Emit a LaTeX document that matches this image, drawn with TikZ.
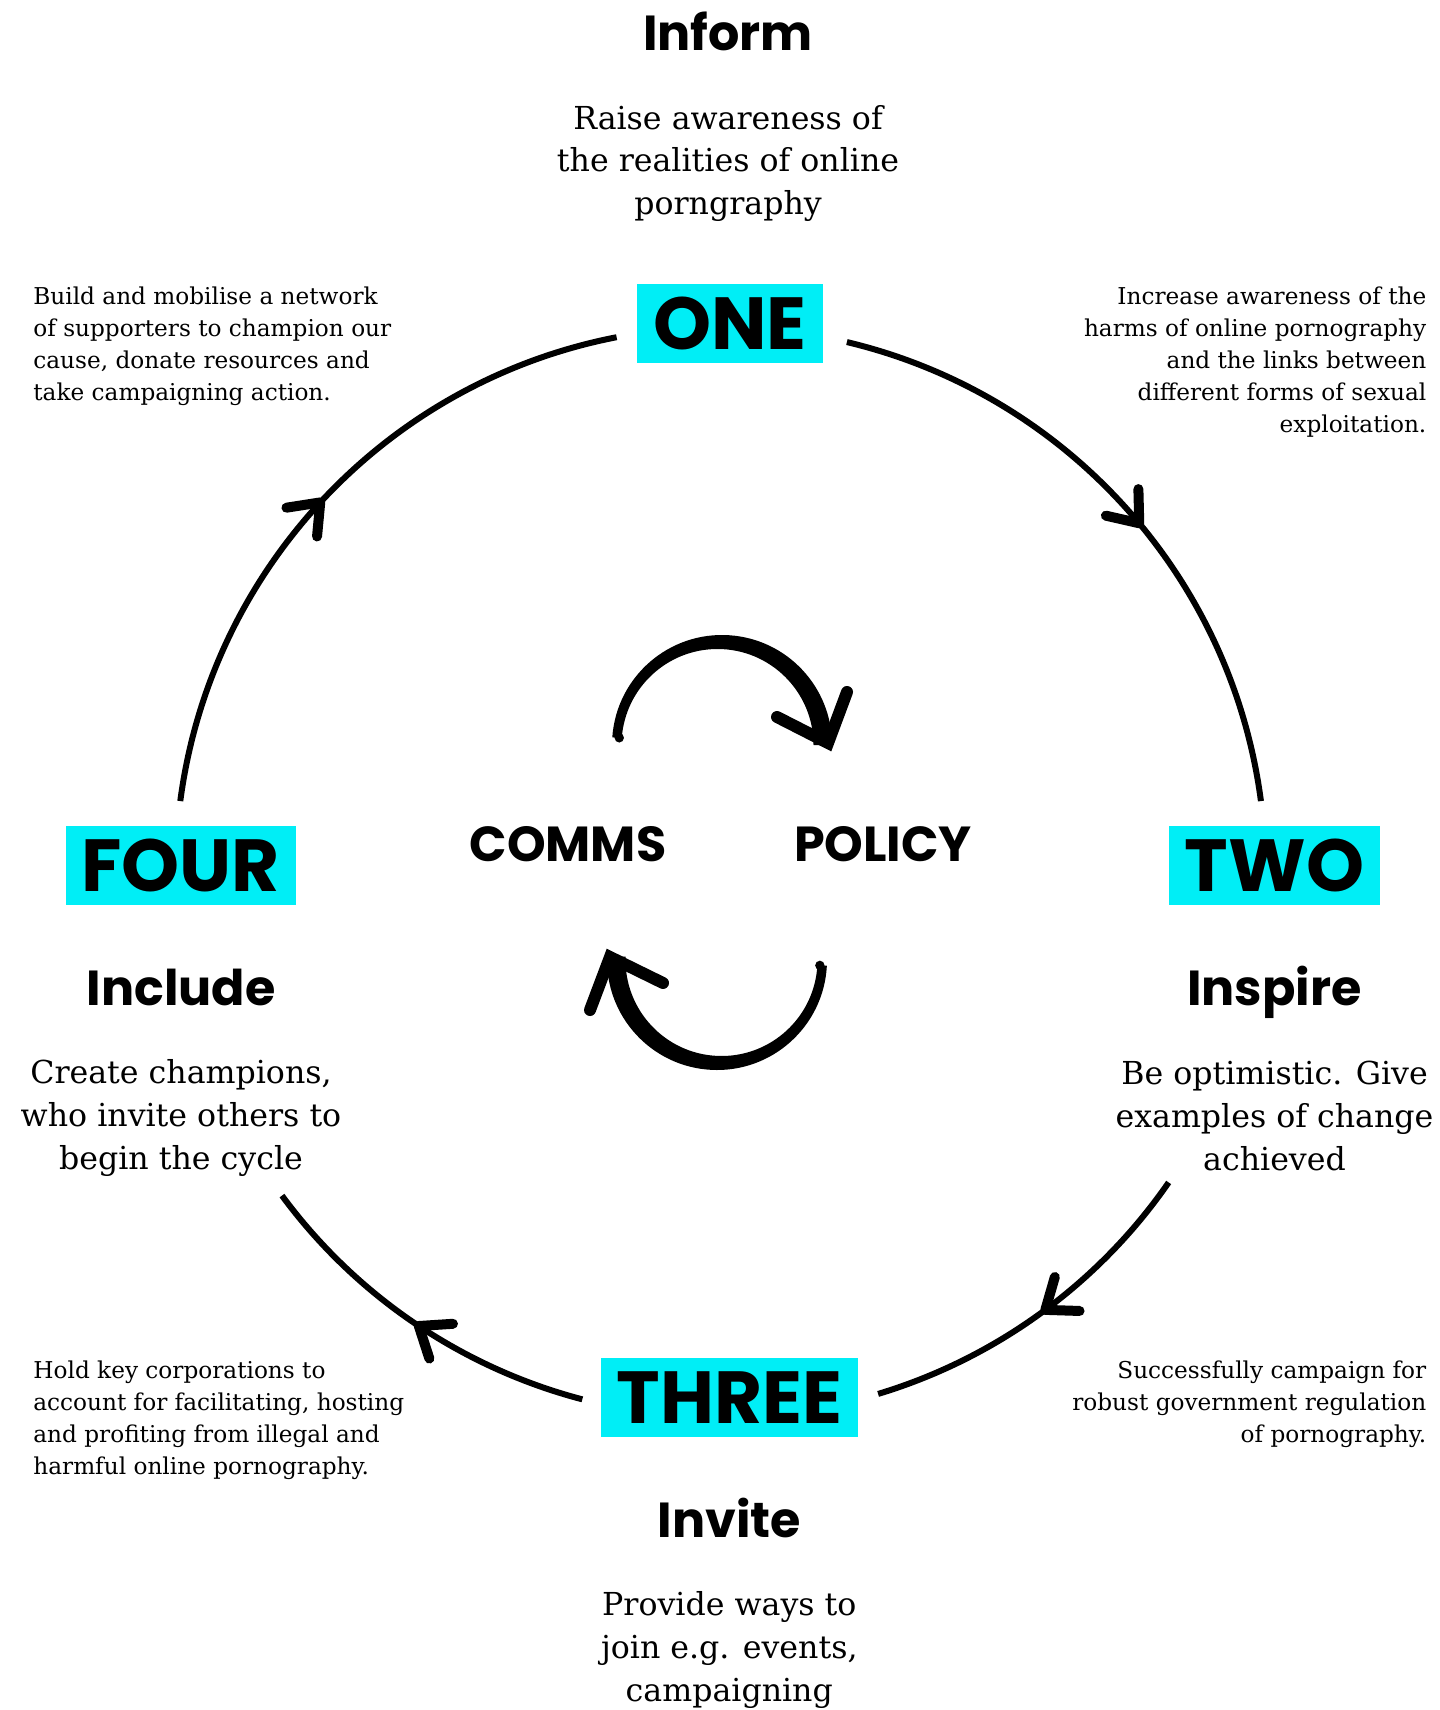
\documentclass[tikz,border=0pt]{standalone}
\usepackage{fontspec}
\setmainfont{DejaVu Serif}
\newfontfamily\headfont{Poppins}
\usetikzlibrary{arrows.meta,decorations.markings,calc}
\definecolor{boxcyan}{RGB}{0,238,246}

\begin{document}
\begin{tikzpicture}[
    numbox/.style={fill=boxcyan, font=\headfont\bfseries\fontsize{21}{21}\selectfont,
      inner xsep=0.16cm, inner ysep=0pt, minimum height=0.79cm, text height=0.52cm, text depth=0pt},
    title/.style={font=\headfont\bfseries\fontsize{14}{14}\selectfont, anchor=base},
    bigtxt/.style={font=\fontsize{9}{12.2}\selectfont, align=center},
    smalltxt/.style={font=\fontsize{6.6}{9.1}\selectfont, inner sep=0pt},
    cyc/.style={line width=0.6mm, postaction={decorate}, decoration={markings,
      mark=at position #1 with {\arrow{Straight Barb[length=2.7mm, width=4.2mm, line width=1mm, round]}}}},
    cyc/.default=0.5,
    swirl/.style={line width=1.2mm, line cap=round},
  ]
  \useasboundingbox (0,0) rectangle (14.39,-17.10);

  % the four stages
  \node[numbox] (one) at (7.30,-3.235) {ONE};
  \node[numbox] (two) at (12.745,-8.655) {TWO};
  \node[numbox] (three) at (7.293,-13.975) {THREE};
  \node[numbox] (four) at (1.808,-8.655) {FOUR};

  \node[title] (inform) at (7.28,-0.51) {Inform};
  \node[title] (inspire) at (12.745,-10.05) {Inspire};
  \node[title] (invite) at (7.293,-15.37) {Invite};
  \node[title] (include) at (1.81,-10.05) {Include};

  \node[bigtxt] (informtxt) at (7.28,-1.635) {Raise awareness of\\the realities of online\\porngraphy};
  \node[bigtxt] (inspiretxt) at (12.745,-11.16) {Be optimistic. Give\\examples of change\\achieved};
  \node[bigtxt] (invitetxt) at (7.293,-16.50) {Provide ways to\\join e.g. events,\\campaigning};
  \node[bigtxt] (includetxt) at (1.81,-11.18) {Create champions,\\who invite others to\\begin the cycle};

  % corner notes
  \node[smalltxt, anchor=west, align=left] (buildtxt) at (0.327,-3.464)
    {Build and mobilise a network\\of supporters to champion our\\cause, donate resources and\\take campaigning action.};
  \node[smalltxt, anchor=east, align=right] (increasetxt) at (14.27,-3.62)
    {Increase awareness of the\\harms of online pornography\\and the links between\\different forms of sexual\\exploitation.};
  \node[smalltxt, anchor=east, align=right] (successtxt) at (14.27,-14.04)
    {Successfully campaign for\\robust government regulation\\of pornography.};
  \node[smalltxt, anchor=west, align=left] (holdtxt) at (0.327,-14.20)
    {Hold key corporations to\\account for facilitating, hosting\\and profiting from illegal and\\harmful online pornography.};

  \node[title] (comms) at (5.68,-8.61) {COMMS};
  \node[title] (policy) at (8.83,-8.61) {POLICY};

  % big cycle
  \coordinate (ctr) at (7.206,-8.722);
  \coordinate (a1) at ($(ctr)+(172.5:5.45)$);
  \coordinate (a2) at ($(ctr)+(76.6:5.45)$);
  \coordinate (a3) at ($(ctr)+(-34.7:5.45)$);
  \coordinate (a4) at ($(ctr)+(255.3:5.45)$);
  \draw[cyc] (a1) arc[start angle=172.5, end angle=101, radius=5.45];
  \draw[cyc=0.54] (a2) arc[start angle=76.6, end angle=7.5, radius=5.45];
  \draw[cyc] (a3) arc[start angle=-34.7, end angle=-73.2, radius=5.45];
  \draw[cyc] (a4) arc[start angle=255.3, end angle=216.4, radius=5.45];

  % inner swirls
  \coordinate (swT) at (7.22,-7.45);
  \coordinate (tipT) at (8.28,-7.43);
  \fill ($(swT)+(176:1.10)$) arc[start angle=176, end angle=0, radius=1.10]
    -- ($(swT)+(-0.045,0)+(0:0.96)$) arc[start angle=0, end angle=176, radius=0.96] -- cycle;
  \fill ($(swT)+(176:1.03)$) circle[radius=0.047];
  \draw[swirl] (7.77,-7.17) -- (tipT) -- (8.47,-6.92);

  \coordinate (swB) at (7.17,-9.60);
  \coordinate (tipB) at (6.10,-9.57);
  \fill ($(swB)+(-3:1.10)$) arc[start angle=-3, end angle=-182, radius=1.10]
    -- ($(swB)+(0.045,0)+(-182:0.96)$) arc[start angle=-182, end angle=-3, radius=0.96] -- cycle;
  \fill ($(swB)+(-3:1.03)$) circle[radius=0.047];
  \draw[swirl] (5.90,-10.10) -- (tipB) -- (6.63,-9.83);
\end{tikzpicture}
\end{document}
